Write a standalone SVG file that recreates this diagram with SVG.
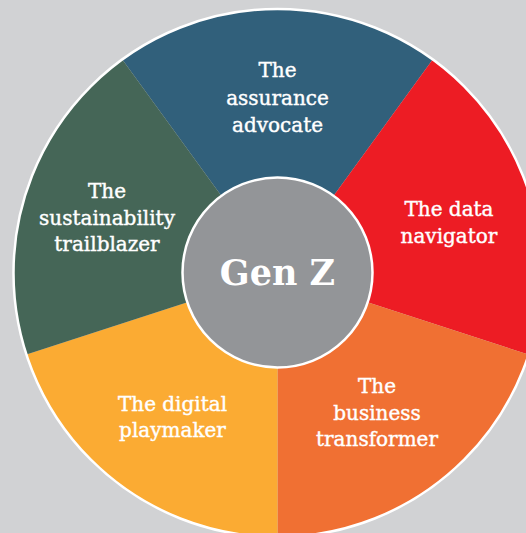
<svg xmlns="http://www.w3.org/2000/svg" width="526" height="533" viewBox="0 0 526 533">
  <style>
    .lbl { font-family: "DejaVu Serif", "Liberation Serif", serif; font-size: 20px; fill: #ffffff; stroke: #ffffff; stroke-width: 0.4; text-anchor: middle; }
    .hub { font-family: "DejaVu Serif", "Liberation Serif", serif; font-size: 35px; font-weight: bold; fill: #ffffff; text-anchor: middle; }
  </style>
  <rect x="0" y="0" width="526" height="533" fill="#d1d2d4"/>
  <g id="wedges">
    <g id="assurance-advocate">
      <path d="M277.5,273 L122.32,59.42 A264,264 0 0 1 432.68,59.42 Z" fill="#31607b"/>
      <text class="lbl" x="277.5" y="77">The</text>
      <text class="lbl" x="277.5" y="105">assurance</text>
      <text class="lbl" x="277.5" y="132">advocate</text>
    </g>
    <g id="data-navigator">
      <path d="M277.5,273 L432.68,59.42 A264,264 0 0 1 528.58,354.58 Z" fill="#ed1c24"/>
      <text class="lbl" x="449" y="216">The data</text>
      <text class="lbl" x="449" y="243">navigator</text>
    </g>
    <g id="business-transformer">
      <path d="M277.5,273 L528.58,354.58 A264,264 0 0 1 277.5,537 Z" fill="#f07033"/>
      <text class="lbl" x="377" y="393">The</text>
      <text class="lbl" x="377" y="420">business</text>
      <text class="lbl" x="377" y="446">transformer</text>
    </g>
    <g id="digital-playmaker">
      <path d="M277.5,273 L277.5,537 A264,264 0 0 1 26.42,354.58 Z" fill="#fbab33"/>
      <text class="lbl" x="172.5" y="411">The digital</text>
      <text class="lbl" x="172.5" y="437">playmaker</text>
    </g>
    <g id="sustainability-trailblazer">
      <path d="M277.5,273 L26.42,354.58 A264,264 0 0 1 122.32,59.42 Z" fill="#456657"/>
      <text class="lbl" x="107" y="198">The</text>
      <text class="lbl" x="107" y="225">sustainability</text>
      <text class="lbl" x="107" y="251">trailblazer</text>
    </g>
  </g>
  <g id="connectors"></g>
  <circle cx="277.5" cy="273" r="264" fill="none" stroke="#ffffff" stroke-width="2.5"/>
  <g id="gen-z">
    <circle cx="277.5" cy="272.5" r="95" fill="#939598" stroke="#ffffff" stroke-width="2.5"/>
    <text class="hub" x="277.5" y="285">Gen Z</text>
  </g>
</svg>
